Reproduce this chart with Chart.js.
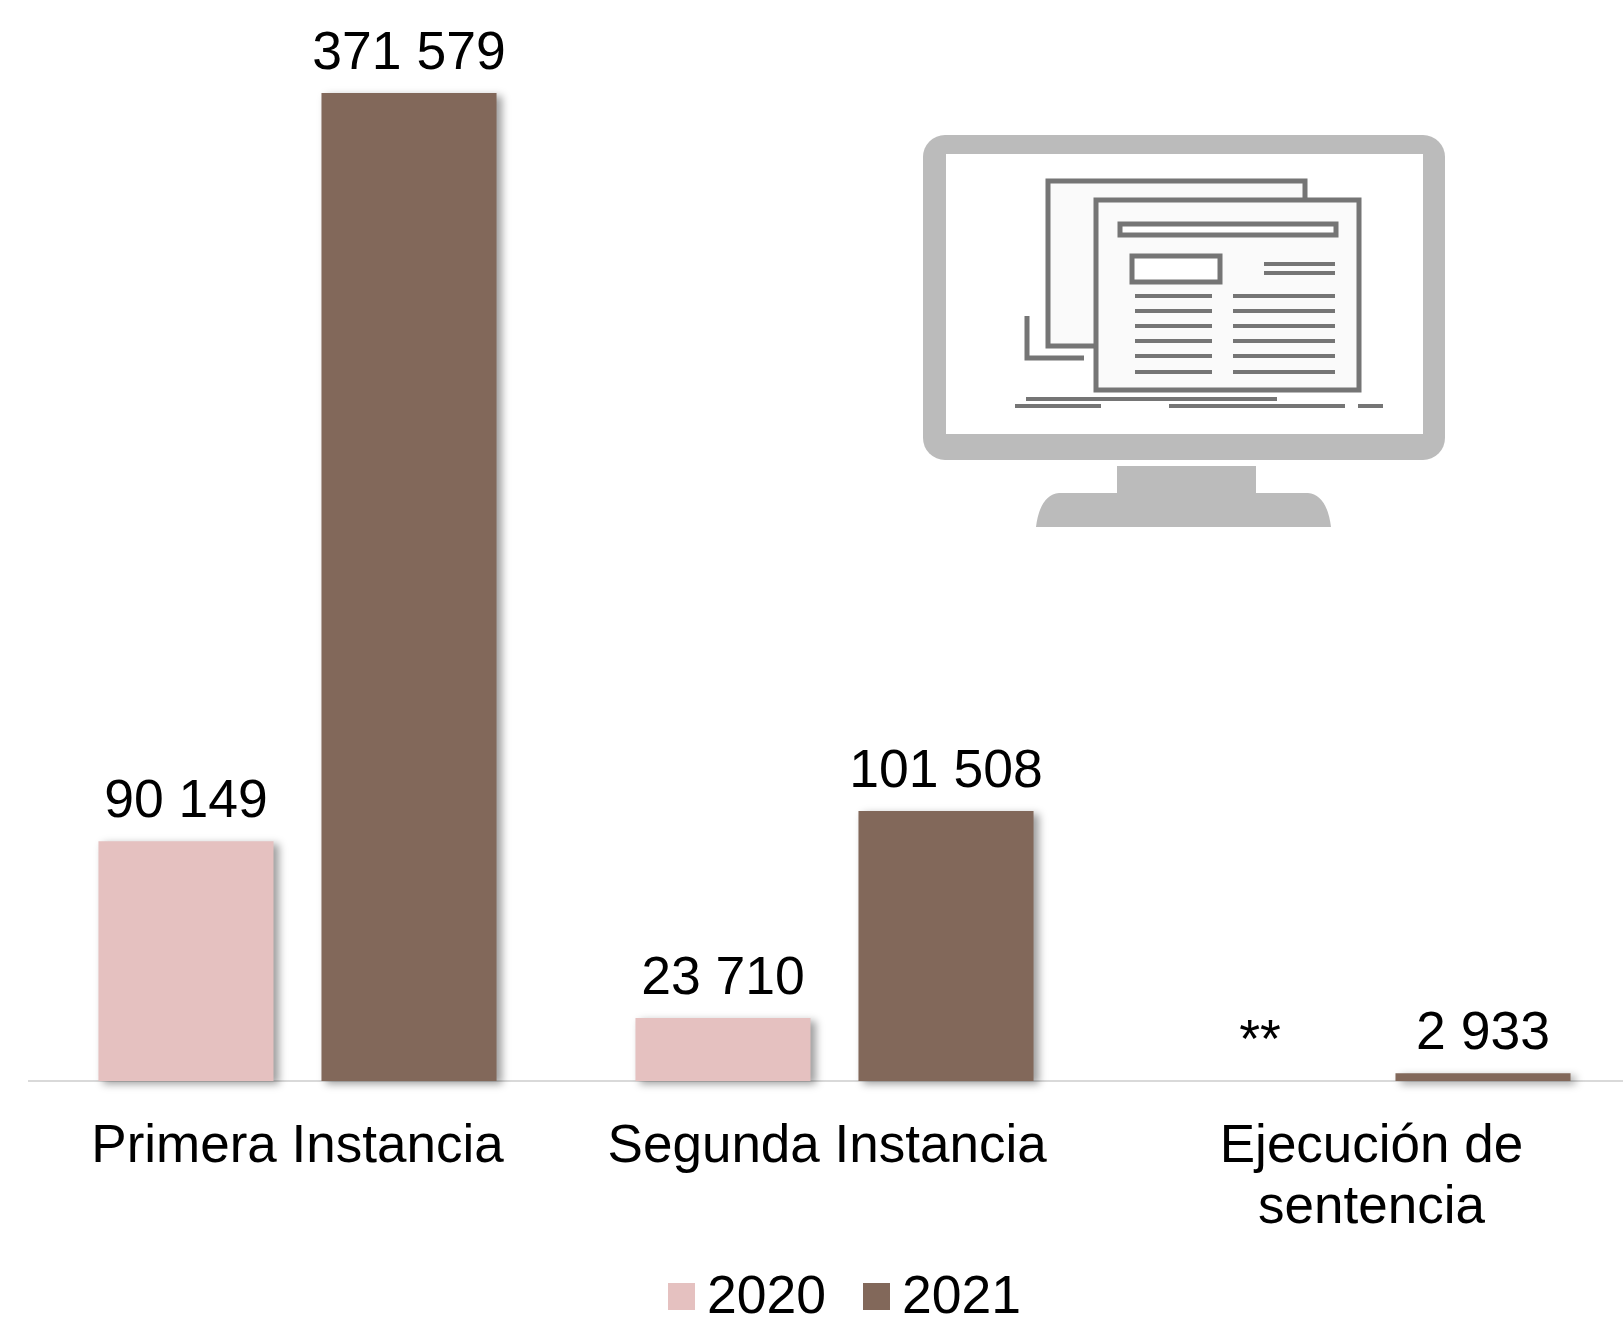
<!DOCTYPE html>
<html>
<head>
<meta charset="utf-8">
<title>Expedientes 2020 - 2021</title>
<script src="https://cdn.jsdelivr.net/npm/chart.js@4"></script>
<style>
  html, body { margin: 0; padding: 0; background: #fff; overflow: hidden; }
  #wrap { position: relative; width: 1623px; height: 1317px; overflow: hidden; }
  #chart-box { position: absolute; left: 0; top: 0; width: 1640px; height: 1317px; }
  #monitor { position: absolute; left: 0; top: 0; pointer-events: none; }
</style>
</head>
<body>
<div id="wrap">
  <div id="chart-box"><canvas id="chart"></canvas></div>
  <!-- monitor icon, decoration only -->
  <svg id="monitor" width="1623" height="1317" fill="none">
    <rect x="923" y="135" width="522" height="325" rx="22" fill="#bbb"/>
    <rect x="946" y="154" width="477" height="280" fill="#fff"/>
    <path d="M1117 466H1256V493H1308Q1327 495 1331 527H1036Q1040 495 1059 493H1117Z" fill="#bbb"/>
    <g stroke="#757575" stroke-width="5">
      <rect x="1048" y="181" width="257" height="165" fill="#fafafa"/>
      <rect x="1096" y="200" width="263" height="190" fill="#fafafa"/>
      <rect x="1120" y="224" width="216" height="11" fill="#fff"/>
      <rect x="1132" y="256" width="88" height="26" fill="#fff"/>
      <path d="M1027 316V358H1084"/>
    </g>
    <g stroke="#757575" stroke-width="4">
      <path d="M1264 264H1335M1264 273H1335"/>
      <path d="M1135 296H1212M1135 311H1212M1135 326H1212M1135 341H1212M1135 356H1212M1135 372H1212"/>
      <path d="M1233 296H1335M1233 311H1335M1233 326H1335M1233 341H1335M1233 356H1335M1233 372H1335"/>
      <path d="M1026 399H1277M1015 406H1101M1169 406H1345M1358 406H1383"/>
    </g>
  </svg>
</div>
<script>
// trailing space on the second label: it sits a little left of its bars in the original
const categories = ["Primera Instancia", "Segunda Instancia ", ["Ejecución de", "sentencia"]];
const seriesNames = ["2020", "2021"];
const values2020 = [90149, 23710, null];
const values2021 = [371579, 101508, 2933];
const labels2020 = ["90 149", "23 710", "**"];
const labels2021 = ["371 579", "101 508", "2 933"];
const colors = ["#e5c1c0", "#82685a"];

const FONT = '53.5px "Liberation Sans", Arial, sans-serif';

// soft shadow on the bars, clip is off in the datasets so it goes under the axis
const barShadow = {
  id: "barShadow",
  beforeDatasetsDraw(chart) {
    const ctx = chart.ctx;
    ctx.save();
    ctx.shadowColor = "rgba(0,0,0,0.38)";
    ctx.shadowBlur = 8;
    ctx.shadowOffsetX = 5;
    ctx.shadowOffsetY = 3;
  },
  afterDatasetsDraw(chart) {
    chart.ctx.restore();
  }
};

const valueLabels = {
  id: "valueLabels",
  afterDatasetsDraw(chart) {
    const ctx = chart.ctx;
    const texts = [labels2020, labels2021];
    ctx.save();
    ctx.font = FONT;
    ctx.fillStyle = "#000";
    ctx.textAlign = "center";
    ctx.textBaseline = "alphabetic";
    chart.data.datasets.forEach((ds, d) => {
      chart.getDatasetMeta(d).data.forEach((bar, i) => {
        const y = chart.scales.y.getPixelForValue(ds.data[i] ?? 0);
        ctx.fillText(texts[d][i], bar.x, y - 24);
      });
    });
    ctx.restore();
  }
};

// legend drawn by hand: the built-in one keeps too wide a gap after the box
const bottomLegend = {
  id: "bottomLegend",
  afterDraw(chart) {
    const ctx = chart.ctx;
    const boxX = [668, 863];
    ctx.save();
    ctx.font = FONT;
    ctx.textBaseline = "alphabetic";
    ctx.textAlign = "left";
    chart.data.datasets.forEach((ds, d) => {
      ctx.fillStyle = ds.backgroundColor;
      ctx.fillRect(boxX[d], 1283, 27, 27);
      ctx.fillStyle = "#000";
      ctx.fillText(ds.label, boxX[d] + 39, 1313);
    });
    ctx.restore();
  }
};

new Chart(document.getElementById("chart"), {
  type: "bar",
  data: {
    labels: categories,
    datasets: [
      { label: seriesNames[0], data: values2020, backgroundColor: colors[0], clip: false },
      { label: seriesNames[1], data: values2021, backgroundColor: colors[1], clip: false }
    ]
  },
  options: {
    responsive: true,
    maintainAspectRatio: false,
    animation: false,
    layout: { padding: { left: 29, right: 0, top: 0, bottom: 0 } },
    categoryPercentage: 0.8306,
    barPercentage: 0.785,
    plugins: {
      legend: { display: false },
      tooltip: { enabled: false }
    },
    scales: {
      x: {
        grid: { display: false },
        border: { display: true, color: "#d9d9d9", width: 2 },
        afterFit(axis) { axis.height = 236; },
        ticks: {
          color: "#000",
          padding: 28,
          maxRotation: 0,
          autoSkip: false,
          font: { family: '"Liberation Sans", Arial, sans-serif', size: 53, lineHeight: 1.15 }
        }
      },
      y: { display: false, min: 0, max: 406560 }
    }
  },
  plugins: [barShadow, valueLabels, bottomLegend]
});
</script>
</body>
</html>
